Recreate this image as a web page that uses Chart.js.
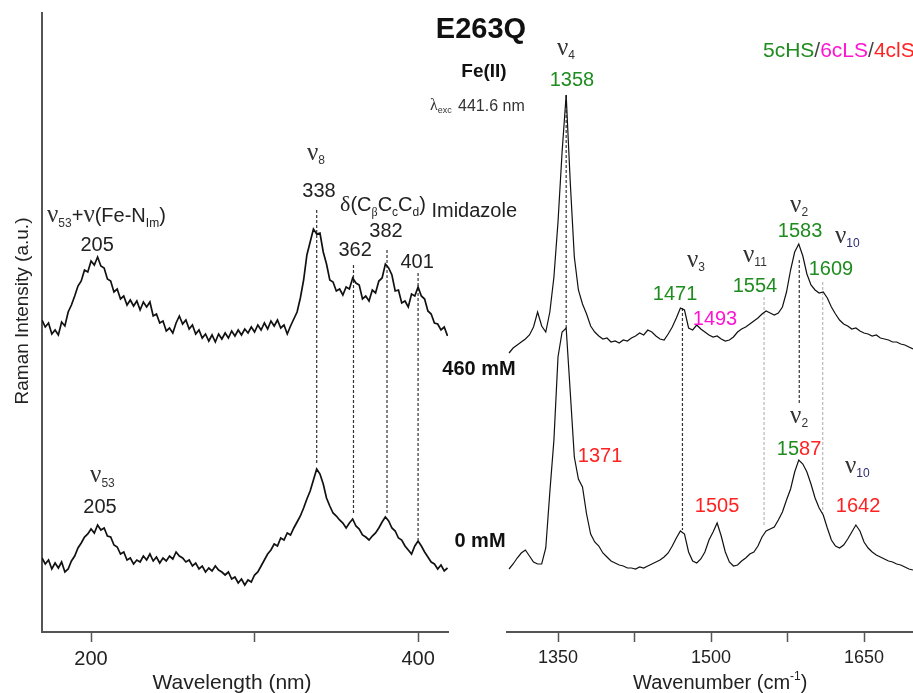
<!DOCTYPE html>
<html>
<head>
<meta charset="utf-8">
<script src="https://cdn.jsdelivr.net/npm/chart.js@4.4.1/dist/chart.umd.min.js"></script>
<style>
html,body{margin:0;padding:0;background:#fff;}
#marco{position:relative;width:913px;height:693px;overflow:hidden;background:#fff;}
#marco canvas{position:absolute;left:0;top:0;}
</style>
</head>
<body>
<div id="marco">
  <canvas id="izq" width="913" height="693"></canvas>
  <canvas id="der" width="913" height="693"></canvas>
</div>
<script>
//DATOS PANEL IZQUIERDO (bajas frecuencias), x desde 170 cada 2
const bajoInicio = 170, bajoPaso = 2;
const bajo460 = [312,305,309,298,302,297,310,306,320,327,
  336,346,351,362,360,371,367,375,366,364,
  353,351,340,343,333,336,327,332,326,331,
  322,330,325,330,316,318,309,311,301,304,
  299,309,316,308,312,303,307,298,302,294,
  298,291,297,290,298,293,299,294,301,296,
  302,297,303,299,305,300,307,302,309,303,
  311,306,312,304,307,298,306,313,320,334,
  352,377,390,403,398,399,380,368,352,350,
  341,343,337,345,343,354,349,347,333,336,
  331,342,339,351,354,368,364,357,341,342,
  329,331,325,338,336,345,336,333,321,318,
  309,308,302,305,296];
const bajo0 = [74,68,72,63,69,64,70,60,63,71,
  76,84,89,95,98,103,99,107,102,104,
  96,95,87,85,78,80,72,74,68,72,
  70,76,72,78,71,75,69,74,71,76,
  73,80,76,74,70,72,66,69,63,66,
  60,64,61,66,62,60,57,60,53,55,
  49,53,47,52,50,57,60,66,72,78,
  82,88,86,94,92,99,97,104,110,116,
  124,133,141,152,163,158,148,134,126,119,
  116,112,109,104,109,113,106,103,97,95,
  92,96,99,104,110,115,111,104,101,94,
  92,86,82,78,86,91,86,80,75,70,
  68,63,67,61,64];
const bajoTicks = [200, 300, 400];
const bajoTickLabels = ['200', '', '400'];
const bajoMarcas = [338, 360.5, 381, 400];
const bajoMarcasArriba = [422, 367, 382, 359];
const bajoMarcasAbajo = [169, 119, 119, 92];

//DATOS PANEL DERECHO (altas frecuencias), x desde 1302 cada 4
const altoInicio = 1302, altoPaso = 4;
const alto460 = [279,284,287,290,293,297,305,320,306,300,
  320,355,410,480,537,450,375,342,328,318,
  306,300,296,293,294,290,291,289,292,291,
  294,296,299,297,302,300,296,293,292,298,
  305,314,324,322,304,302,307,303,300,297,
  295,296,293,291,292,295,300,303,305,308,
  311,314,318,321,319,317,319,325,340,362,
  380,388,376,358,347,342,339,340,334,325,
  318,312,308,306,303,304,301,299,298,296,
  297,294,293,292,290,290,288,287,285,283];
const alto0 = [63,68,74,79,82,76,70,68,68,84,
  140,192,275,300,304,240,175,153,145,118,
  98,90,86,79,75,71,69,67,66,64,
  64,63,65,64,66,68,70,72,75,79,
  86,94,101,98,80,71,69,73,80,92,
  100,109,96,80,70,66,67,71,74,78,
  80,86,95,101,103,105,112,120,132,143,
  160,172,168,160,148,134,124,117,104,92,
  86,84,87,93,100,107,101,90,84,80,
  77,75,73,71,70,68,67,65,63,62];
const altoTicks = [1350, 1425, 1500, 1575, 1650];
const altoTickLabels = ['1350', '', '1500', '', '1650'];
const altoMarcas = [1358, 1472, 1552, 1586.5, 1609.5];
const altoMarcasArriba = [537, 324, 335, 372, 350];
const altoMarcasAbajo = [304, 102, 105, 229, 119];
const altoMarcasGris = [false, false, true, false, true];

//ESTILOS
const SANS = "'Liberation Sans', Arial, sans-serif";
const SERIF = "'Liberation Serif', 'Times New Roman', serif";
const F20 = '20px ' + SANS;
const SUB = '12px ' + SANS;
const NU = '25px ' + SERIF;
const OSCURO = '#222';
const VERDE = '#1f8c1f';
const MAGENTA = '#ff14d2';
const ROJO = '#ff2222';

function puntos(inicio, paso, valores){
    return valores.map((v, i) => ({x: inicio + i * paso, y: v}));
}

function marcas(xs, arriba, abajo, gris){
    return xs.map((x, i) => ({
        data: [{x: x, y: arriba[i]}, {x: x, y: abajo[i]}],
        borderColor: gris && gris[i] ? '#b8b8b8' : '#333',
        borderWidth: 1.2,
        borderDash: [3, 2],
        pointRadius: 0
    }));
}

function escribir(ctx, x, y, partes, alinear){
    let ancho = 0;
    partes.forEach(p => { ctx.font = p[1]; ancho += ctx.measureText(p[0]).width; });
    let cx = alinear === 'center' ? x - ancho / 2 : x;
    partes.forEach(p => {
        ctx.font = p[1];
        ctx.fillStyle = p[2];
        ctx.fillText(p[0], cx, y + (p[3] || 0));
        cx += ctx.measureText(p[0]).width;
    });
}

const num = (t, c) => [[t, F20, c || OSCURO]];
const nu = (s, c) => [['ν', NU, '#333'], [s, SUB, c || '#333', 4]];

//ETIQUETAS (posicion en unidades de los ejes)
const etiquetasIzq = [
    {x: 173.1, y: 410, a: 'left', p: [['ν', NU, '#333'], ['53', SUB, '#333', 5], ['+', F20, OSCURO], ['ν', NU, '#333'], ['(Fe-N', F20, OSCURO], ['Im', SUB, OSCURO, 5], [')', F20, OSCURO]]},
    {x: 203.7, y: 381, a: 'center', p: num('205')},
    {x: 332.1, y: 472, a: 'left', p: nu('8')},
    {x: 339.4, y: 435, a: 'center', p: num('338')},
    {x: 352.3, y: 421, a: 'left', p: [['δ', '22px ' + SERIF, OSCURO], ['(C', F20, OSCURO], ['β', '12px ' + SERIF, OSCURO, 5], ['C', F20, OSCURO], ['c', SUB, OSCURO, 5], ['C', F20, OSCURO], ['d', SUB, OSCURO, 5], [')', F20, OSCURO], [' Imidazole', F20, OSCURO, 6]]},
    {x: 361.5, y: 376, a: 'center', p: num('362')},
    {x: 380.4, y: 395, a: 'center', p: num('382')},
    {x: 399.4, y: 364, a: 'center', p: num('401')},
    {x: 199.4, y: 150, a: 'left', p: [['ν', NU, '#333'], ['53', SUB, '#333', 5]]},
    {x: 205.5, y: 119, a: 'center', p: num('205')}
];

const etiquetasDer = [
    {x: 1349.0, y: 577, a: 'left', p: nu('4')},
    {x: 1363.7, y: 546, a: 'center', p: num('1358', VERDE)},
    {x: 1476.5, y: 365, a: 'left', p: nu('3')},
    {x: 1464.7, y: 332, a: 'center', p: num('1471', VERDE)},
    {x: 1503.9, y: 307, a: 'center', p: num('1493', MAGENTA)},
    {x: 1531.4, y: 370, a: 'left', p: nu('11')},
    {x: 1543.1, y: 340, a: 'center', p: num('1554', VERDE)},
    {x: 1577.5, y: 420, a: 'left', p: nu('2')},
    {x: 1587.3, y: 395, a: 'center', p: num('1583', VERDE)},
    {x: 1621.6, y: 389, a: 'left', p: nu('10', '#2b2b70')},
    {x: 1617.6, y: 357, a: 'center', p: num('1609', VERDE)},
    {x: 1391.2, y: 170, a: 'center', p: num('1371', ROJO)},
    {x: 1505.9, y: 120, a: 'center', p: num('1505', ROJO)},
    {x: 1577.5, y: 209, a: 'left', p: nu('2')},
    {x: 1586.3, y: 177, a: 'center', p: [['15', F20, VERDE], ['87', F20, ROJO]]},
    {x: 1631.4, y: 159, a: 'left', p: nu('10', '#2b2b70')},
    {x: 1644.1, y: 120, a: 'center', p: num('1642', ROJO)}
];

function dibujarEtiquetas(chart, lista){
    const ctx = chart.ctx, sx = chart.scales.x, sy = chart.scales.y;
    lista.forEach(e => escribir(ctx, sx.getPixelForValue(e.x), sy.getPixelForValue(e.y), e.p, e.a));
}

//TEXTOS GENERALES DE LA FIGURA
function textosFigura(ctx){
    escribir(ctx, 481, 38, [['E263Q', 'bold 29px ' + SANS, '#111']], 'center');
    escribir(ctx, 484, 77, [['Fe(II)', 'bold 19px ' + SANS, '#111']], 'center');
    escribir(ctx, 430, 110, [['λ', '16px ' + SERIF, '#333'], ['exc', '9px ' + SANS, '#333', 3]], 'left');
    escribir(ctx, 458, 111, [['441.6 nm', '16px ' + SANS, '#333']], 'left');
    escribir(ctx, 479, 375, [['460 mM', 'bold 20px ' + SANS, '#111']], 'center');
    escribir(ctx, 480, 547, [['0 mM', 'bold 20px ' + SANS, '#111']], 'center');
    escribir(ctx, 763, 57, [['5cHS', '21px ' + SANS, VERDE], ['/', '21px ' + SANS, '#444'], ['6cLS', '21px ' + SANS, MAGENTA], ['/', '21px ' + SANS, '#444'], ['4clS', '21px ' + SANS, ROJO]], 'left');
    escribir(ctx, 232, 689, [['Wavelength (nm)', '21px ' + SANS, OSCURO]], 'center');
    escribir(ctx, 633, 689, [['Wavenumber (cm', '20px ' + SANS, OSCURO], ['-1', '12px ' + SANS, OSCURO, -9], [')', '20px ' + SANS, OSCURO]], 'left');
    ctx.save();
    ctx.translate(28, 311);
    ctx.rotate(-Math.PI / 2);
    escribir(ctx, 0, 0, [['Raman Intensity (a.u.)', '19px ' + SANS, OSCURO]], 'center');
    ctx.restore();
}

function ejeX(min, max, ticks, labels, tam){
    return {
        type: 'linear', min: min, max: max,
        afterBuildTicks: s => { s.ticks = ticks.map(v => ({value: v})); },
        afterFit: s => { s.height = 61; },
        ticks: {
            autoSkip: false, maxRotation: 0, padding: 5, color: OSCURO,
            font: {family: SANS, size: tam},
            callback: (v, i) => labels[i]
        },
        grid: {display: true, drawOnChartArea: false, drawTicks: true, tickLength: 10, tickColor: '#555', tickWidth: 1.5},
        border: {display: true, color: '#555', width: 2}
    };
}

const comunes = {
    responsive: false,
    animation: false,
    events: [],
    plugins: {legend: {display: false}, tooltip: {enabled: false}},
    elements: {line: {tension: 0}}
};

//GRAFICO IZQUIERDO
new Chart(document.querySelector('#izq'), {
    type: 'line',
    data: {
        datasets: [
            {data: puntos(bajoInicio, bajoPaso, bajo460), borderColor: '#111', borderWidth: 1.7, pointRadius: 0},
            {data: puntos(bajoInicio, bajoPaso, bajo0), borderColor: '#111', borderWidth: 1.7, pointRadius: 0}
        ].concat(marcas(bajoMarcas, bajoMarcasArriba, bajoMarcasAbajo))
    },
    options: Object.assign({}, comunes, {
        layout: {padding: {left: 0, top: 13, right: 465, bottom: 0}},
        scales: {
            x: ejeX(170, 418.3, bajoTicks, bajoTickLabels, 20),
            y: {
                min: 0, max: 619,
                ticks: {display: false},
                grid: {display: false},
                border: {display: true, color: '#555', width: 2},
                afterFit: s => { s.width = 42; }
            }
        }
    }),
    plugins: [{
        id: 'textosIzq',
        afterDraw(chart){
            const ctx = chart.ctx;
            ctx.save();
            ctx.textAlign = 'left';
            ctx.textBaseline = 'alphabetic';
            dibujarEtiquetas(chart, etiquetasIzq);
            textosFigura(ctx);
            ctx.restore();
        }
    }]
});

//GRAFICO DERECHO
new Chart(document.querySelector('#der'), {
    type: 'line',
    data: {
        datasets: [
            {data: puntos(altoInicio, altoPaso, alto460), borderColor: '#111', borderWidth: 1.2, pointRadius: 0},
            {data: puntos(altoInicio, altoPaso, alto0), borderColor: '#111', borderWidth: 1.2, pointRadius: 0}
        ].concat(marcas(altoMarcas, altoMarcasArriba, altoMarcasAbajo, altoMarcasGris))
    },
    options: Object.assign({}, comunes, {
        layout: {padding: {left: 507, top: 13, right: 0, bottom: 0}},
        scales: {
            x: ejeX(1300, 1698, altoTicks, altoTickLabels, 18),
            y: {min: 0, max: 619, display: false}
        }
    }),
    plugins: [{
        id: 'textosDer',
        afterDraw(chart){
            const ctx = chart.ctx;
            ctx.save();
            ctx.textAlign = 'left';
            ctx.textBaseline = 'alphabetic';
            dibujarEtiquetas(chart, etiquetasDer);
            ctx.restore();
        }
    }]
});
</script>
</body>
</html>
